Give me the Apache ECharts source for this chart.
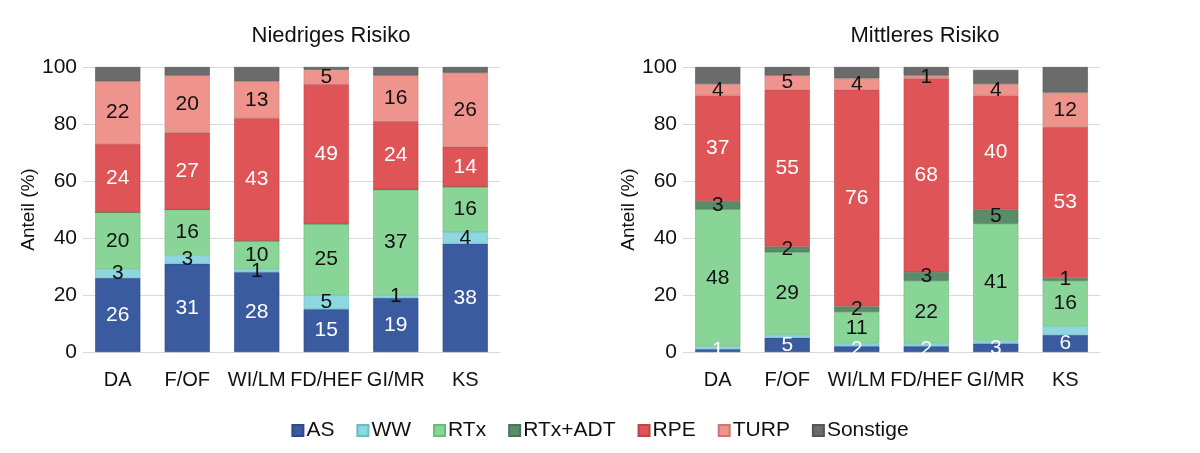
<!DOCTYPE html>
<html>
<head>
<meta charset="utf-8">
<script src="https://cdn.jsdelivr.net/npm/echarts@6/dist/echarts.min.js"></script>
<style>
html,body{margin:0;padding:0;background:#fff;}
#c{width:1200px;height:453px;}
</style>
</head>
<body>
<div id="c"></div>
<script>
const categories = ['DA','F/OF','WI/LM','FD/HEF','GI/MR','KS'];
const seriesNames = ['AS','WW','RTx','RTx+ADT','RPE','TURP','Sonstige'];
const yTicks = [0,20,40,60,80,100];
const titleLow = 'Niedriges Risiko';
const titleMid = 'Mittleres Risiko';

// Niedriges Risiko
const lowAS       = [26,31,28,15,19,38];
const lowWW       = [3,3,1,5,1,4];
const lowRTx      = [20,16,10,25,37,16];
const lowRTxADT   = [0,0,0,0,0,0];
const lowRPE      = [24,27,43,49,24,14];
const lowTURP     = [22,20,13,5,16,26];
const lowSonstige = [5,3,5,1,3,2];

// Mittleres Risiko
const midAS       = [1,5,2,2,3,6];
const midWW       = [1,1,1,1,1,3];
const midRTx      = [48,29,11,22,41,16];
const midRTxADT   = [3,2,2,3,5,1];
const midRPE      = [37,55,76,68,40,53];
const midTURP     = [4,5,4,1,4,12];
const midSonstige = [6,3,4,3,5,9];

const colors = ['#3A5BA0','#8DD7E0','#88D597','#5B8C68','#DF5457','#EF938D','#6B6B6B'];
const borders = ['#2E4A85','#6FB9C2','#6DB97B','#4A7456','#B9474A','#C97A74','#555555'];
const labelColors = ['#ffffff','#111111','#111111','#111111','#ffffff','#111111','#111111'];

const lowData = [lowAS,lowWW,lowRTx,lowRTxADT,lowRPE,lowTURP,lowSonstige];
const midData = [midAS,midWW,midRTx,midRTxADT,midRPE,midTURP,midSonstige];
const lowShow = [true,true,true,true,true,true,false];
const midShow = [true,false,true,true,true,true,false];

const FONT = '"Liberation Sans", Arial, sans-serif';
const FS = 21;

function makeSeries(dataSet, showSet, idx, stack){
  return dataSet.map((d,i)=>({
    name: seriesNames[i],
    type: 'bar',
    stack: stack,
    xAxisIndex: idx,
    yAxisIndex: idx,
    barCategoryGap: '35%',
    data: d,
    itemStyle: {color: colors[i], borderColor: borders[i], borderWidth: 0.6},
    label: {
      show: showSet[i],
      position: 'inside',
      color: labelColors[i],
      fontFamily: FONT,
      fontSize: FS,
      formatter: p => p.value > 0 ? String(p.value) : ''
    },
    emphasis: {disabled: true}
  }));
}

function xAx(idx){
  return {
    type:'category', gridIndex: idx, data: categories,
    axisLine:{lineStyle:{color:'#d9d9d9'}}, axisTick:{show:false},
    axisLabel:{color:'#111', fontFamily:FONT, fontSize:20, margin:18, interval:0}
  };
}
function yAx(idx){
  return {
    type:'value', gridIndex: idx, min: yTicks[0], max: yTicks[yTicks.length-1], interval: 20,
    name:'Anteil (%)', nameLocation:'middle', nameGap:37,
    nameTextStyle:{color:'#111', fontFamily:FONT, fontSize:19},
    axisLine:{show:false}, axisTick:{show:false},
    splitLine:{lineStyle:{color:'#d9d9d9'}},
    axisLabel:{color:'#111', fontFamily:FONT, fontSize:FS, margin:6}
  };
}

const chart = echarts.init(document.getElementById('c'), null, {renderer:'canvas'});
chart.setOption({
  animation:false,
  title:[
    {text:titleLow, left:326, top:20, textAlign:'center', textStyle:{fontFamily:FONT, fontSize:22, fontWeight:'normal', color:'#111'}},
    {text:titleMid, left:920, top:20, textAlign:'center', textStyle:{fontFamily:FONT, fontSize:22, fontWeight:'normal', color:'#111'}}
  ],
  legend:{
    data: seriesNames, left:'center', top:415,
    itemWidth:11, itemHeight:11, itemGap:22,
    icon:'rect',
    textStyle:{fontFamily:FONT, fontSize:FS, color:'#111', padding:[0,0,0,-2]}
  },
  grid:[
    {left:83, right:700, top:67, bottom:101},
    {left:683, right:100, top:67, bottom:101}
  ],
  xAxis:[xAx(0), xAx(1)],
  yAxis:[yAx(0), yAx(1)],
  series: makeSeries(lowData, lowShow, 0, 'low').concat(makeSeries(midData, midShow, 1, 'mid'))
});
</script>
</body>
</html>
